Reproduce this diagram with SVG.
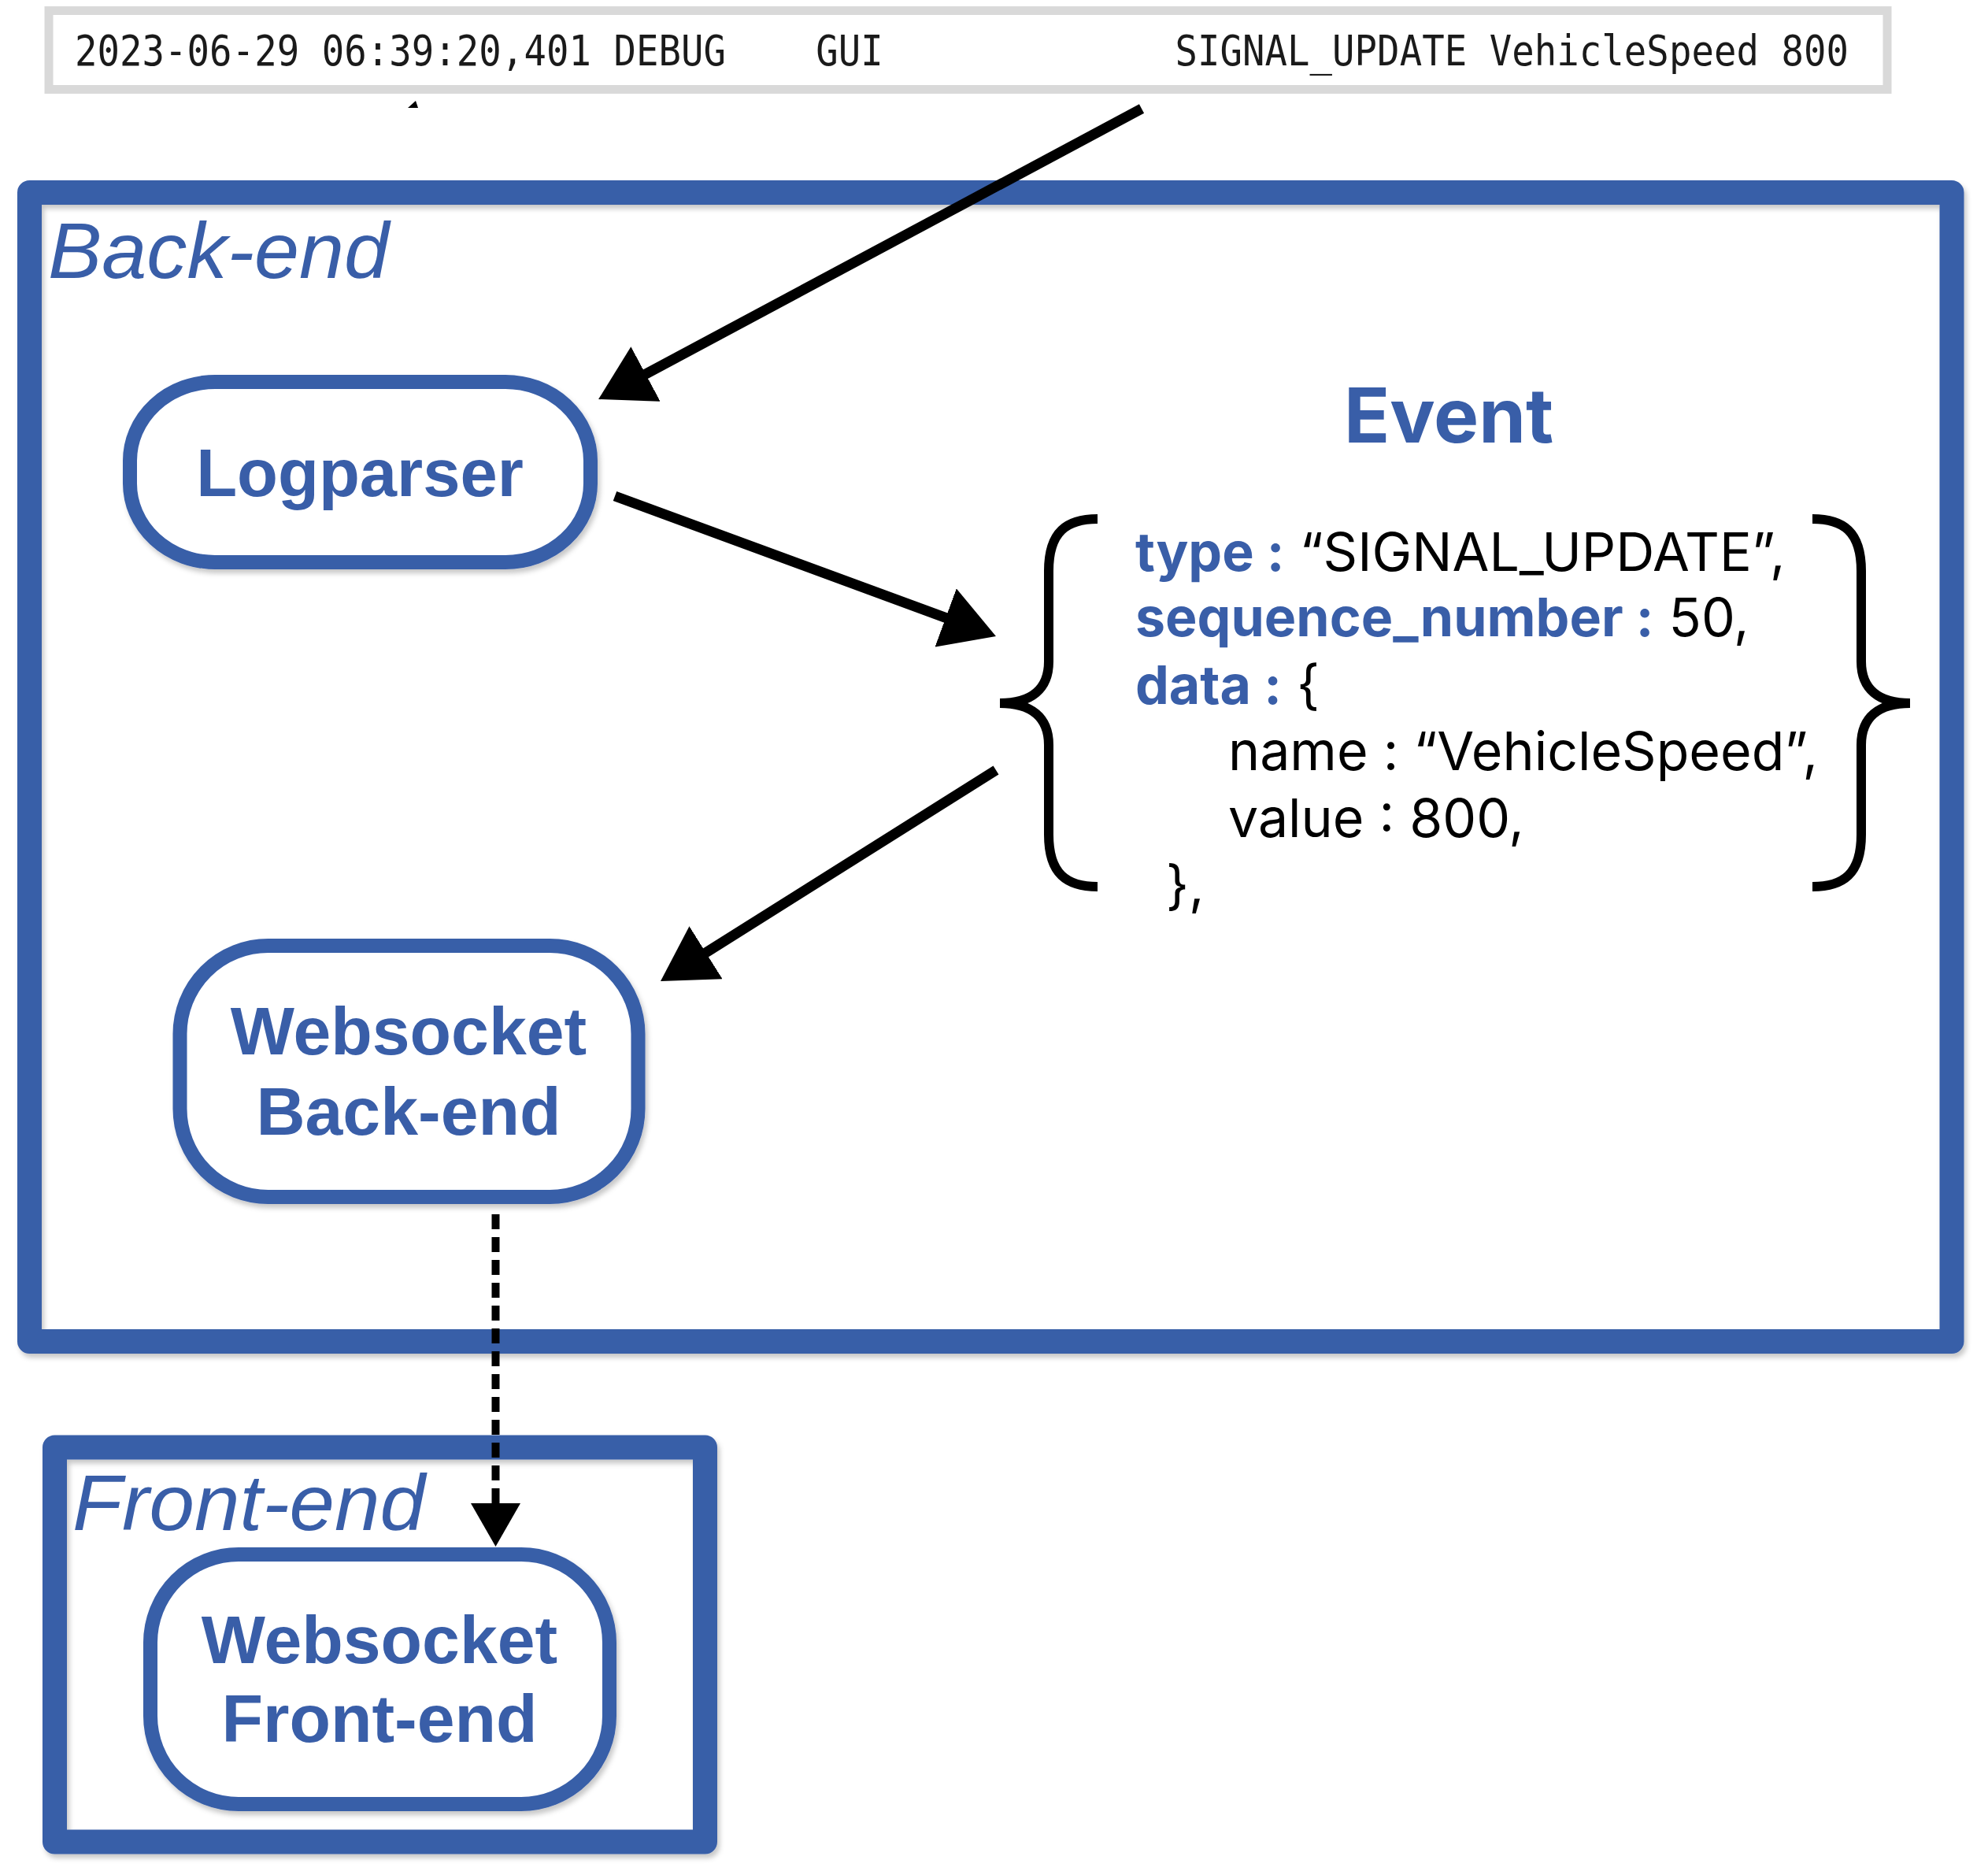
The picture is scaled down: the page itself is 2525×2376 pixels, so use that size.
<svg xmlns="http://www.w3.org/2000/svg" width="2525" height="2376" viewBox="0 0 2525 2376">
<style>
.cont{fill:none;stroke:#395EA8;stroke-width:31;stroke-linejoin:round}
.node{fill:#fff;stroke:#395EA8;stroke-width:18}
.nlabel{font-family:"Liberation Sans",Arial,sans-serif;font-weight:700;font-size:86px;fill:#395EA8;text-anchor:middle}
.clabel{font-family:"Liberation Sans",Arial,sans-serif;font-style:italic;font-size:100px;fill:#395EA8}
.js{font-family:Inter,"Liberation Sans",sans-serif;font-size:68px;fill:#000}
.key{fill:#395EA8;font-weight:700}
.brace{fill:none;stroke:#000;stroke-width:12}
.conn{fill:none;stroke:#000;stroke-width:13}
.dash{fill:none;stroke:#000;stroke-width:10;stroke-dasharray:19 10}
</style>
<defs>
<filter id="sh" x="-5%" y="-5%" width="115%" height="115%">
<feDropShadow dx="3" dy="5" stdDeviation="3" flood-color="#000" flood-opacity="0.22"/>
</filter>
<marker id="ah" markerUnits="userSpaceOnUse" viewBox="0 0 68 79" refX="38" refY="39.5" markerWidth="68" markerHeight="79" orient="auto">
<path d="M0,0 L68,39.5 L0,79 Z" fill="#000"/>
</marker>
<marker id="ahd" markerUnits="userSpaceOnUse" viewBox="0 0 55 63" refX="25" refY="31.5" markerWidth="55" markerHeight="63" orient="auto">
<path d="M0,0 L55,31.5 L0,63 Z" fill="#000"/>
</marker>
</defs>
<rect width="2525" height="2376" fill="#fff"/>

<g id="logline">
<rect x="62" y="13.5" width="2335" height="100" fill="#fff" stroke="#d9d9d9" stroke-width="11"/>
<text transform="translate(95,83) scale(1,1.12)" x="0" y="0" xml:space="preserve" style="white-space:pre" font-family="'DejaVu Sans Mono','Liberation Mono',monospace" font-size="47.3" fill="#1a1a1a" textLength="2253" lengthAdjust="spacing">2023-06-29 06:39:20,401 DEBUG    GUI             SIGNAL_UPDATE VehicleSpeed 800</text>
</g>
<polygon points="518,137 528,128 531,137" fill="#000"/>

<g id="backend">
<rect class="cont" x="37.5" y="244.5" width="2441.5" height="1459" filter="url(#sh)"/>
<text class="clabel" x="61" y="353" textLength="433" lengthAdjust="spacingAndGlyphs">Back-end</text>
</g>

<g id="frontend">
<rect class="cont" x="69.5" y="1838" width="826" height="501" filter="url(#sh)"/>
<text class="clabel" x="92" y="1943" textLength="448" lengthAdjust="spacingAndGlyphs">Front-end</text>
</g>

<g id="logparser">
<rect class="node" x="165" y="485" width="585" height="229" rx="108" ry="100" filter="url(#sh)"/>
<text class="nlabel" x="457" y="630" style="font-size:85px">Logparser</text>
</g>

<g id="websocket-backend">
<rect class="node" x="228.5" y="1201" width="582" height="319" rx="112" ry="112" filter="url(#sh)"/>
<text class="nlabel" x="519" y="1339">Websocket</text>
<text class="nlabel" x="519" y="1441">Back-end</text>
</g>

<g id="websocket-frontend">
<rect class="node" x="191" y="1974" width="583" height="317" rx="112" ry="112" filter="url(#sh)"/>
<text class="nlabel" x="482" y="2112">Websocket</text>
<text class="nlabel" x="482" y="2212">Front-end</text>
</g>

<g id="event">
<text x="1840" y="562" font-family="Inter,'Liberation Sans',sans-serif" font-weight="700" font-size="96" fill="#395EA8" text-anchor="middle">Event</text>
<path class="brace" d="M1394,659 C1355,659 1332,675 1332,725 L1332,840 C1332,875 1310,893 1270,893 C1310,893 1332,911 1332,946 L1332,1060 C1332,1110 1355,1126 1394,1126"/>
<path class="brace" d="M2302,659 C2341,659 2364,675 2364,725 L2364,840 C2364,875 2386,893 2426,893 C2386,893 2364,911 2364,946 L2364,1060 C2364,1110 2341,1126 2302,1126"/>
<text class="js" x="1442" y="725"><tspan class="key">type :</tspan> “SIGNAL_UPDATE”,</text>
<text class="js" x="1442" y="808"><tspan class="key">sequence_number :</tspan> 50,</text>
<text class="js" x="1442" y="894"><tspan class="key">data :</tspan> {</text>
<text class="js" x="1560" y="978">name : “VehicleSpeed”,</text>
<text class="js" x="1560" y="1063">value : 800,</text>
<text class="js" x="1481" y="1148">},</text>
</g>

<g id="connectors">
<line class="conn" x1="1450" y1="138" x2="786.5" y2="492.9" marker-end="url(#ah)"/>
<line class="conn" x1="781" y1="630" x2="1236.8" y2="797.6" marker-end="url(#ah)"/>
<line class="conn" x1="1265" y1="978" x2="864.4" y2="1230" marker-end="url(#ah)"/>
<line class="dash" x1="629.5" y1="1542" x2="629.5" y2="1934" marker-end="url(#ahd)"/>
</g>
</svg>
